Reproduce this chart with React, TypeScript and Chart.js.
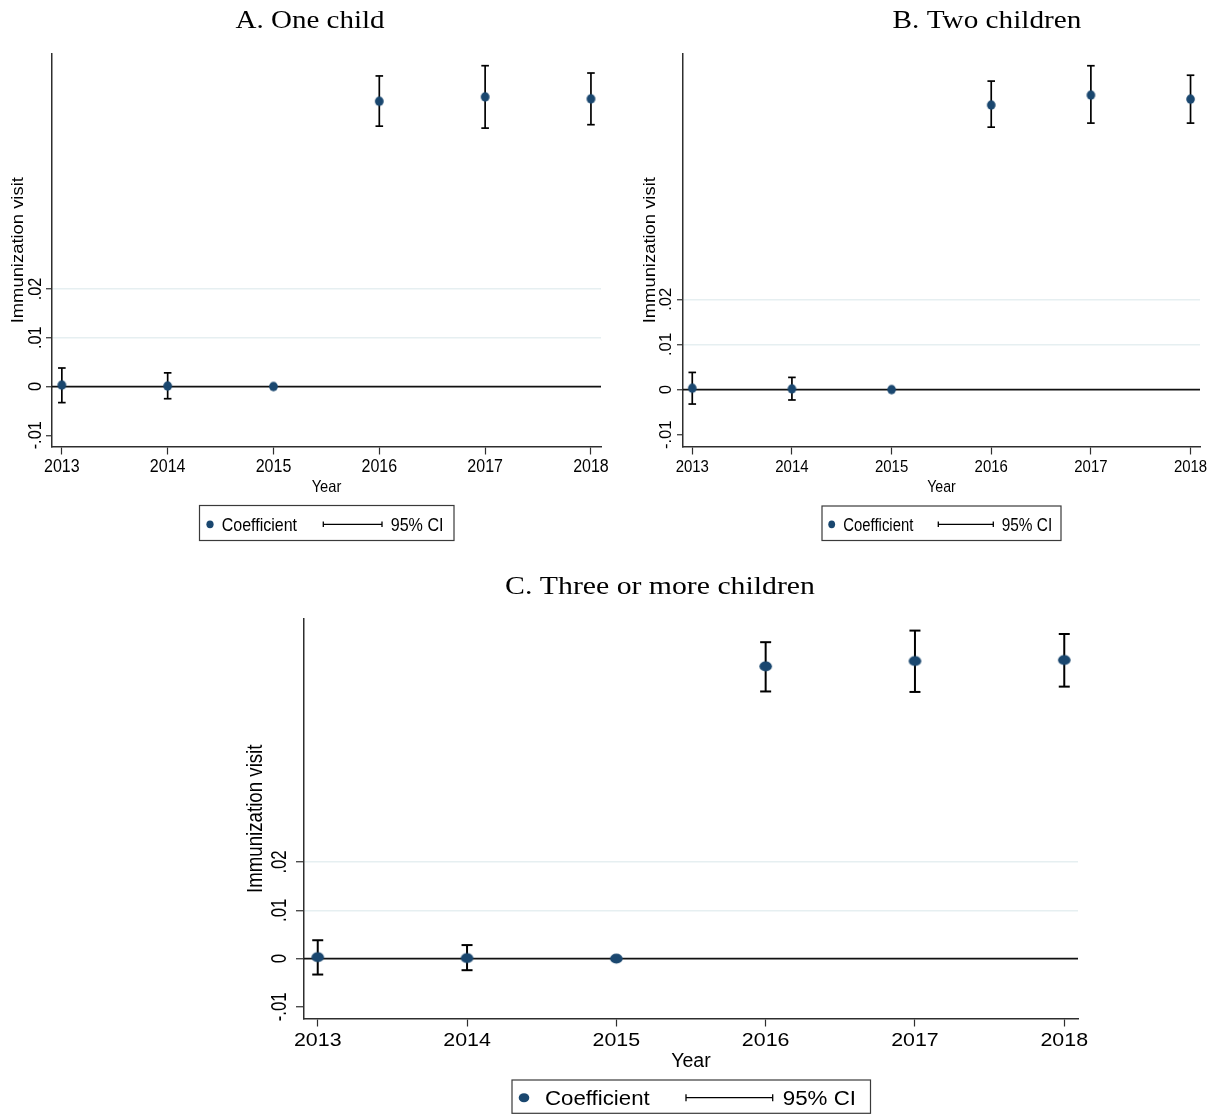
import { useEffect, useRef } from "react";
import { Chart, registerables } from "chart.js";

Chart.register(...registerables);

const W = 1218;
const H = 1116;

// Event-study years and axis ticks
const years = [2013, 2014, 2015, 2016, 2017, 2018];
const xTickLabels = ["2013", "2014", "2015", "2016", "2017", "2018"];
const yTickValues = [-0.01, 0, 0.01, 0.02];
const yTickLabels = ["-.01", "0", ".01", ".02"];
const yGridValues = [0.01, 0.02];

// A. One child
const oneChildCoef = [0.0003, 0.0001, 0, 0.0585, 0.0594, 0.059];
const oneChildLow = [-0.0033, -0.0025, null, 0.0534, 0.053, 0.0537];
const oneChildHigh = [0.0038, 0.0028, null, 0.0637, 0.0658, 0.0643];

// B. Two children
const twoChildCoef = [0.0003, 0.00015, 0, 0.063, 0.0652, 0.0643];
const twoChildLow = [-0.0032, -0.0023, null, 0.0581, 0.059, 0.059];
const twoChildHigh = [0.0038, 0.0027, null, 0.0683, 0.0717, 0.0696];

// C. Three or more children
const threePlusCoef = [0.0003, 0.0001, 0, 0.0605, 0.0616, 0.0618];
const threePlusLow = [-0.0033, -0.0024, null, 0.0553, 0.0552, 0.0563];
const threePlusHigh = [0.0038, 0.0028, null, 0.0655, 0.0679, 0.0672];

const NAVY = "#1a476f";
const AXIS = "#2e2e2e";
const GRID = "#e6eff1";
const SANS = '"Liberation Sans", Arial, Helvetica, sans-serif';
const SERIF = '"Liberation Serif", "Times New Roman", serif';

type Txt = { size: number; sx: number };

type Panel = {
  title: string;
  coef: number[];
  low: (number | null)[];
  high: (number | null)[];
  yMin: number;
  yMax: number;
  xMin: number;
  xMax: number;
  plot: { left: number; right: number; top: number; bottom: number };
  yTickLen: number;
  xTickLen: number;
  titleX: number;
  titleY: number;
  titleTxt: Txt;
  xTickY: number;
  xTickTxt: Txt;
  yearY: number;
  yearTxt: Txt;
  yTickX: number;
  yTickTxt: Txt;
  yTitleX: number;
  yTitleTxt: Txt;
  dot: { rx: number; ry: number };
  capHalf: number;
  barWidth: number;
  legend: {
    x1: number;
    y1: number;
    x2: number;
    y2: number;
    dotX: number;
    midY: number;
    coefX: number;
    ciX1: number;
    ciX2: number;
    ciLabelX: number;
    baseline: number;
    coefTxt: Txt;
    ciTxt: Txt;
    dot: { rx: number; ry: number };
    capHalf: number;
  };
};

const panels: Panel[] = [
  {
    title: "A. One child",
    coef: oneChildCoef,
    low: oneChildLow,
    high: oneChildHigh,
    yMin: -0.0123,
    yMax: 0.0682,
    xMin: 2012.907,
    xMax: 2018.095,
    plot: { left: 52, right: 601, top: 54, bottom: 446.5 },
    yTickLen: 6,
    xTickLen: 8,
    titleX: 310,
    titleY: 28,
    titleTxt: { size: 25, sx: 1.16 },
    xTickY: 472,
    xTickTxt: { size: 18, sx: 0.89 },
    yearY: 492,
    yearTxt: { size: 16.5, sx: 0.89 },
    yTickX: 41,
    yTickTxt: { size: 17.7, sx: 0.92 },
    yTitleX: 22.7,
    yTitleTxt: { size: 16.3, sx: 1.13 },
    dot: { rx: 4.4, ry: 4.7 },
    capHalf: 3.8,
    barWidth: 1.7,
    legend: {
      x1: 199.5,
      y1: 505.5,
      x2: 454,
      y2: 540.5,
      dotX: 210,
      midY: 524.3,
      coefX: 221.7,
      ciX1: 323.3,
      ciX2: 382,
      ciLabelX: 390.7,
      baseline: 530.7,
      coefTxt: { size: 18.5, sx: 0.865 },
      ciTxt: { size: 18.5, sx: 0.87 },
      dot: { rx: 3.6, ry: 3.9 },
      capHalf: 2.8,
    },
  },
  {
    title: "B. Two children",
    coef: twoChildCoef,
    low: twoChildLow,
    high: twoChildHigh,
    yMin: -0.0126,
    yMax: 0.0743,
    xMin: 2012.907,
    xMax: 2018.095,
    plot: { left: 683, right: 1200, top: 54, bottom: 446.5 },
    yTickLen: 6,
    xTickLen: 8,
    titleX: 987,
    titleY: 28,
    titleTxt: { size: 25, sx: 1.17 },
    xTickY: 471.7,
    xTickTxt: { size: 17, sx: 0.88 },
    yearY: 491.7,
    yearTxt: { size: 16.3, sx: 0.87 },
    yTickX: 670.7,
    yTickTxt: { size: 17.2, sx: 0.97 },
    yTitleX: 655,
    yTitleTxt: { size: 16.3, sx: 1.13 },
    dot: { rx: 4.3, ry: 4.7 },
    capHalf: 3.8,
    barWidth: 1.7,
    legend: {
      x1: 822,
      y1: 506,
      x2: 1061,
      y2: 540.5,
      dotX: 831.7,
      midY: 524.3,
      coefX: 843.3,
      ciX1: 938.3,
      ciX2: 993.3,
      ciLabelX: 1001.7,
      baseline: 530.7,
      coefTxt: { size: 17.5, sx: 0.85 },
      ciTxt: { size: 17.5, sx: 0.88 },
      dot: { rx: 3.4, ry: 3.9 },
      capHalf: 2.8,
    },
  },
  {
    title: "C. Three or more children",
    coef: threePlusCoef,
    low: threePlusLow,
    high: threePlusHigh,
    yMin: -0.0124,
    yMax: 0.0703,
    xMin: 2012.908,
    xMax: 2018.092,
    plot: { left: 304, right: 1078, top: 619, bottom: 1018.5 },
    yTickLen: 8,
    xTickLen: 8,
    titleX: 660,
    titleY: 594,
    titleTxt: { size: 25, sx: 1.19 },
    xTickY: 1046,
    xTickTxt: { size: 18.6, sx: 1.15 },
    yearY: 1066.7,
    yearTxt: { size: 19.5, sx: 1.0 },
    yTickX: 286,
    yTickTxt: { size: 22, sx: 0.76 },
    yTitleX: 261.7,
    yTitleTxt: { size: 22.5, sx: 0.83 },
    dot: { rx: 6.3, ry: 5.1 },
    capHalf: 5.5,
    barWidth: 2,
    legend: {
      x1: 512,
      y1: 1080,
      x2: 870.5,
      y2: 1113.3,
      dotX: 524,
      midY: 1097.7,
      coefX: 545,
      ciX1: 686,
      ciX2: 772.7,
      ciLabelX: 782.7,
      baseline: 1105.3,
      coefTxt: { size: 20.5, sx: 1.085 },
      ciTxt: { size: 20.5, sx: 1.09 },
      dot: { rx: 5.3, ry: 4.5 },
      capHalf: 3.5,
    },
  },
];

function drawText(
  ctx: CanvasRenderingContext2D,
  text: string,
  x: number,
  y: number,
  txt: Txt,
  family: string,
  align: CanvasTextAlign,
  rotate = false
) {
  ctx.save();
  ctx.translate(x, y);
  if (rotate) ctx.rotate(-Math.PI / 2);
  ctx.scale(txt.sx, 1);
  ctx.font = `${txt.size}px ${family}`;
  ctx.textAlign = align;
  ctx.textBaseline = "alphabetic";
  ctx.fillStyle = "#000";
  ctx.fillText(text, 0, 0);
  ctx.restore();
}

function makeDot(rx: number, ry: number): HTMLCanvasElement {
  const c = document.createElement("canvas");
  const w = Math.ceil(rx * 2 + 2);
  const h = Math.ceil(ry * 2 + 2);
  c.width = w;
  c.height = h;
  const g = c.getContext("2d")!;
  g.fillStyle = NAVY;
  g.beginPath();
  g.ellipse(w / 2, h / 2, rx, ry, 0, 0, Math.PI * 2);
  g.fill();
  return c;
}

function drawCap(ctx: CanvasRenderingContext2D, x1: number, x2: number, y: number) {
  ctx.beginPath();
  ctx.moveTo(x1, y);
  ctx.lineTo(x2, y);
  ctx.stroke();
}

function buildChart(canvas: HTMLCanvasElement, p: Panel): Chart {
  const panelPlugin = {
    id: "panelDecor",
    beforeDatasetsDraw(chart: any) {
      const { ctx, chartArea } = chart;
      const xs = chart.scales.x;
      const ys = chart.scales.y;
      ctx.save();
      // reference line at zero
      ctx.strokeStyle = "#111";
      ctx.lineWidth = 1.8;
      const y0 = ys.getPixelForValue(0);
      ctx.beginPath();
      ctx.moveTo(chartArea.left, y0);
      ctx.lineTo(chartArea.right, y0);
      ctx.stroke();
      // 95% confidence intervals
      ctx.strokeStyle = "#000";
      ctx.lineWidth = p.barWidth;
      years.forEach((yr, i) => {
        const lo = p.low[i];
        const hi = p.high[i];
        if (lo === null || hi === null) return;
        const x = xs.getPixelForValue(yr);
        const yl = ys.getPixelForValue(lo);
        const yh = ys.getPixelForValue(hi);
        ctx.beginPath();
        ctx.moveTo(x, yl);
        ctx.lineTo(x, yh);
        ctx.stroke();
        drawCap(ctx, x - p.capHalf, x + p.capHalf, yl);
        drawCap(ctx, x - p.capHalf, x + p.capHalf, yh);
      });
      ctx.restore();
    },
    afterDraw(chart: any) {
      const { ctx, chartArea } = chart;
      const xs = chart.scales.x;
      const ys = chart.scales.y;
      // panel title
      drawText(ctx, p.title, p.titleX, p.titleY, p.titleTxt, SERIF, "center");
      // x tick labels
      years.forEach((yr, i) => {
        drawText(ctx, xTickLabels[i], xs.getPixelForValue(yr), p.xTickY, p.xTickTxt, SANS, "center");
      });
      // y tick labels (vertical)
      yTickValues.forEach((v, i) => {
        drawText(ctx, yTickLabels[i], p.yTickX, ys.getPixelForValue(v), p.yTickTxt, SANS, "center", true);
      });
      // axis titles
      const cx = (chartArea.left + chartArea.right) / 2;
      const cy = (chartArea.top + chartArea.bottom) / 2;
      drawText(ctx, "Year", cx, p.yearY, p.yearTxt, SANS, "center");
      drawText(ctx, "Immunization visit", p.yTitleX, cy, p.yTitleTxt, SANS, "center", true);
      // legend
      const L = p.legend;
      ctx.save();
      ctx.fillStyle = "#fff";
      ctx.fillRect(L.x1, L.y1, L.x2 - L.x1, L.y2 - L.y1);
      ctx.strokeStyle = "#3a3a3a";
      ctx.lineWidth = 1.2;
      ctx.strokeRect(L.x1, L.y1, L.x2 - L.x1, L.y2 - L.y1);
      ctx.fillStyle = NAVY;
      ctx.beginPath();
      ctx.ellipse(L.dotX, L.midY, L.dot.rx, L.dot.ry, 0, 0, Math.PI * 2);
      ctx.fill();
      ctx.strokeStyle = "#000";
      ctx.lineWidth = 1.3;
      drawCap(ctx, L.ciX1, L.ciX2, L.midY);
      ctx.beginPath();
      ctx.moveTo(L.ciX1, L.midY - L.capHalf);
      ctx.lineTo(L.ciX1, L.midY + L.capHalf);
      ctx.moveTo(L.ciX2, L.midY - L.capHalf);
      ctx.lineTo(L.ciX2, L.midY + L.capHalf);
      ctx.stroke();
      ctx.restore();
      drawText(ctx, "Coefficient", L.coefX, L.baseline, L.coefTxt, SANS, "left");
      drawText(ctx, "95% CI", L.ciLabelX, L.baseline, L.ciTxt, SANS, "left");
    },
  };

  return new Chart(canvas, {
    type: "scatter",
    data: {
      datasets: [
        {
          label: "Coefficient",
          data: years.map((yr, i) => ({ x: yr, y: p.coef[i] })),
          pointStyle: makeDot(p.dot.rx, p.dot.ry) as any,
          pointRadius: p.dot.rx,
          backgroundColor: NAVY,
          borderWidth: 0,
          showLine: false,
        },
      ],
    },
    options: {
      responsive: false,
      animation: false,
      events: [],
      layout: {
        padding: {
          left: p.plot.left - p.yTickLen,
          right: W - p.plot.right,
          top: p.plot.top,
          bottom: H - p.plot.bottom - p.xTickLen,
        },
      },
      plugins: {
        legend: { display: false },
        tooltip: { enabled: false },
        title: { display: false },
      },
      scales: {
        x: {
          type: "linear",
          position: "bottom",
          min: p.xMin,
          max: p.xMax,
          afterBuildTicks: (s: any) => {
            s.ticks = years.map((v) => ({ value: v }));
          },
          ticks: { display: false },
          grid: {
            drawOnChartArea: false,
            drawTicks: true,
            tickLength: p.xTickLen,
            tickColor: AXIS,
            tickWidth: 1.2,
          },
          border: { display: true, color: AXIS, width: 1.5 },
        },
        y: {
          type: "linear",
          position: "left",
          min: p.yMin,
          max: p.yMax,
          afterBuildTicks: (s: any) => {
            s.ticks = yTickValues.map((v) => ({ value: v }));
          },
          ticks: { display: false },
          grid: {
            drawOnChartArea: true,
            drawTicks: true,
            tickLength: p.yTickLen,
            tickColor: AXIS,
            tickWidth: 1.2,
            lineWidth: 1.5,
            color: (c: any) =>
              c.tick && yGridValues.includes(c.tick.value) ? GRID : "rgba(0,0,0,0)",
          },
          border: { display: true, color: AXIS, width: 1.5 },
        },
      },
    },
    plugins: [panelPlugin],
  } as any);
}

export default function App() {
  const refA = useRef<HTMLCanvasElement>(null);
  const refB = useRef<HTMLCanvasElement>(null);
  const refC = useRef<HTMLCanvasElement>(null);

  useEffect(() => {
    const refs = [refA, refB, refC];
    const charts = refs.map((r, i) => buildChart(r.current!, panels[i]));
    return () => charts.forEach((c) => c.destroy());
  }, []);

  const canvasStyle: React.CSSProperties = { position: "absolute", left: 0, top: 0 };

  return (
    <div
      style={{
        position: "absolute",
        left: 0,
        top: 0,
        width: W,
        height: H,
        background: "#fff",
        overflow: "hidden",
      }}
    >
      <canvas ref={refA} width={W} height={H} style={canvasStyle} />
      <canvas ref={refB} width={W} height={H} style={canvasStyle} />
      <canvas ref={refC} width={W} height={H} style={canvasStyle} />
    </div>
  );
}
